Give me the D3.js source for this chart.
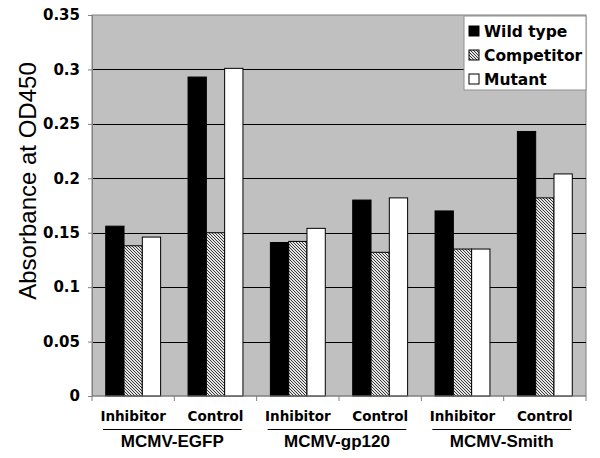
<!DOCTYPE html>
<html>
<head>
<meta charset="utf-8">
<title>Absorbance at OD450</title>
<script src="https://cdn.jsdelivr.net/npm/d3@7/dist/d3.min.js"></script>
<style>
	body { margin: 0; background: white; }
	.tick_label { font-family: "DejaVu Sans", Verdana, sans-serif; font-weight: bold; font-size: 15px; fill: black; }
	.cat_label { font-family: "DejaVu Sans", Verdana, sans-serif; font-weight: bold; font-size: 13.5px; fill: black; }
	.group_label { font-family: "Liberation Sans", Arial, sans-serif; font-weight: bold; font-size: 17px; fill: black; }
	.legend_label { font-family: "DejaVu Sans", Verdana, sans-serif; font-weight: bold; font-size: 15.5px; fill: black; }
	.y_title { font-family: "Liberation Sans", Arial, sans-serif; font-size: 24px; fill: black; }
</style>
</head>
<body>
<svg id="chart"></svg>
<script>

	// data
	var groups = [ "MCMV-EGFP", "MCMV-gp120", "MCMV-Smith" ],
		treatments = [ "Inhibitor", "Control" ],
		seriesNames = [ "Wild type", "Competitor", "Mutant" ],
		// one value per (group, treatment), in order
		wildType   = [ 0.156, 0.293, 0.141, 0.180, 0.170, 0.243 ],
		competitor = [ 0.138, 0.150, 0.142, 0.132, 0.135, 0.182 ],
		mutant     = [ 0.146, 0.301, 0.154, 0.182, 0.135, 0.204 ],
		yTicks = [ 0, 0.05, 0.1, 0.15, 0.2, 0.25, 0.3, 0.35 ];

	var series = [ wildType, competitor, mutant ];
	var fills = [ "black", "url(#hatch)", "white" ];

	var width = 600, height = 458,
		plotLeft = 92, plotRight = 586, plotTop = 15, plotBottom = 396;

	var svg = d3.select( "#chart" )
		.attr( "width", width )
		.attr( "height", height );

	// fine diagonal hatch, pixel based
	var pat = svg.append( "defs" ).append( "pattern" )
		.attr( "id", "hatch" )
		.attr( "patternUnits", "userSpaceOnUse" )
		.attr( "width", 3 )
		.attr( "height", 3 );
	pat.append( "rect" ).attr( "width", 3 ).attr( "height", 3 ).attr( "fill", "#e4e4e4" );
	pat.selectAll( "rect.px" )
		.data( d3.range( 3 ) ).enter().append( "rect" )
			.attr( "class", "px" )
			.attr( "x", d => d ).attr( "y", d => d )
			.attr( "width", 1 ).attr( "height", 1 )
			.attr( "fill", "#3a3a3a" )
			.attr( "shape-rendering", "crispEdges" );

	// flatten categories
	var cats = [];
	groups.forEach( g => treatments.forEach( t => cats.push( g + "|" + t ) ) );

	var x = d3.scaleBand().domain( cats ).range( [ plotLeft, plotRight ] ).paddingInner( 0 ).paddingOuter( 0 );
	var barW = x.bandwidth() / 4.5;
	var xs = d3.scaleBand().domain( d3.range( 3 ) )
		.range( [ 0.75 * barW, 3.75 * barW ] ).padding( 0 );

	var y = d3.scaleLinear().domain( [ 0, 0.35 ] ).range( [ plotBottom, plotTop ] );

	// plot background
	svg.append( "rect" )
		.attr( "x", plotLeft ).attr( "y", plotTop )
		.attr( "width", plotRight - plotLeft ).attr( "height", plotBottom - plotTop )
		.attr( "fill", "#c0c0c0" )
		.attr( "stroke", "#808080" )
		.attr( "stroke-width", 1 );

	// gridlines
	svg.selectAll( "line.grid" )
		.data( yTicks.slice( 1, -1 ) ).enter().append( "line" )
			.attr( "class", "grid" )
			.attr( "x1", plotLeft ).attr( "x2", plotRight )
			.attr( "y1", d => Math.round( y( d ) ) + 0.5 )
			.attr( "y2", d => Math.round( y( d ) ) + 0.5 )
			.attr( "stroke", "black" )
			.attr( "stroke-width", 1 );

	// bars
	series.forEach( function( vals, s ) {
		svg.selectAll( "rect.s" + s )
			.data( vals ).enter().append( "rect" )
				.attr( "class", "s" + s )
				.attr( "x", ( d, i ) => x( cats[ i ] ) + xs( s ) )
				.attr( "y", d => y( d ) )
				.attr( "width", xs.bandwidth() )
				.attr( "height", d => y( 0 ) - y( d ) )
				.attr( "fill", fills[ s ] )
				.attr( "stroke", "black" )
				.attr( "stroke-width", 1 );
	} );

	// y axis
	var yAxis = d3.axisLeft( y ).tickValues( yTicks ).tickSize( 4 ).tickPadding( 8 )
		.tickFormat( d => String( +d.toFixed( 2 ) ) );
	var yg = svg.append( "g" )
		.attr( "transform", "translate(" + plotLeft + ",0)" )
		.call( yAxis );
	yg.attr( "font-size", null ).attr( "font-family", null );
	yg.select( ".domain" ).attr( "stroke", "#808080" );
	yg.selectAll( ".tick line" ).attr( "stroke", "#808080" );
	yg.selectAll( ".tick text" ).attr( "class", "tick_label" );

	// x axis
	var xg = svg.append( "g" )
		.attr( "transform", "translate(0," + plotBottom + ")" );
	xg.append( "line" )
		.attr( "x1", plotLeft ).attr( "x2", plotRight )
		.attr( "stroke", "#808080" );
	xg.selectAll( "line.xtick" )
		.data( cats.map( c => x( c ) ).concat( [ plotRight ] ) ).enter().append( "line" )
			.attr( "x1", d => d ).attr( "x2", d => d )
			.attr( "y1", 0 ).attr( "y2", 5 )
			.attr( "stroke", "#808080" );

	svg.selectAll( "text.cat_label" )
		.data( cats ).enter().append( "text" )
			.attr( "class", "cat_label" )
			.attr( "x", d => x( d ) + x.bandwidth() / 2 )
			.attr( "y", 421 )
			.attr( "text-anchor", "middle" )
			.text( d => d.split( "|" )[ 1 ] );

	groups.forEach( function( g ) {
		var x1 = x( g + "|" + treatments[ 0 ] ),
			x2 = x( g + "|" + treatments[ 1 ] ) + x.bandwidth();
		svg.append( "line" )
			.attr( "x1", x1 + 11 ).attr( "x2", x2 - 15 )
			.attr( "y1", 429.5 ).attr( "y2", 429.5 )
			.attr( "stroke", "black" ).attr( "stroke-width", 1.2 );
		svg.append( "text" )
			.attr( "class", "group_label" )
			.attr( "x", ( x1 + x2 ) / 2 - 2 )
			.attr( "y", 447 )
			.attr( "text-anchor", "middle" )
			.text( g );
	} );

	// y title
	svg.append( "text" )
		.attr( "class", "y_title" )
		.attr( "transform", "translate(36,181) rotate(-90)" )
		.attr( "text-anchor", "middle" )
		.text( "Absorbance at OD450" );

	// legend
	var lg = svg.append( "g" ).attr( "transform", "translate(464,16)" );
	lg.append( "rect" )
		.attr( "width", 122 ).attr( "height", 74 )
		.attr( "fill", "white" )
		.attr( "stroke", "#909090" );
	var items = lg.selectAll( "g.item" )
		.data( seriesNames ).enter().append( "g" )
			.attr( "class", "item" )
			.attr( "transform", ( d, i ) => "translate(5," + ( 15 + i * 24 ) + ")" );
	items.append( "rect" )
		.attr( "x", 0 ).attr( "y", -5 )
		.attr( "width", 10 ).attr( "height", 10 )
		.attr( "fill", ( d, i ) => fills[ i ] )
		.attr( "stroke", "black" );
	items.append( "text" )
		.attr( "class", "legend_label" )
		.attr( "x", 15 )
		.attr( "y", 0 )
		.attr( "dy", "0.36em" )
		.text( d => d );

</script>
</body>
</html>
